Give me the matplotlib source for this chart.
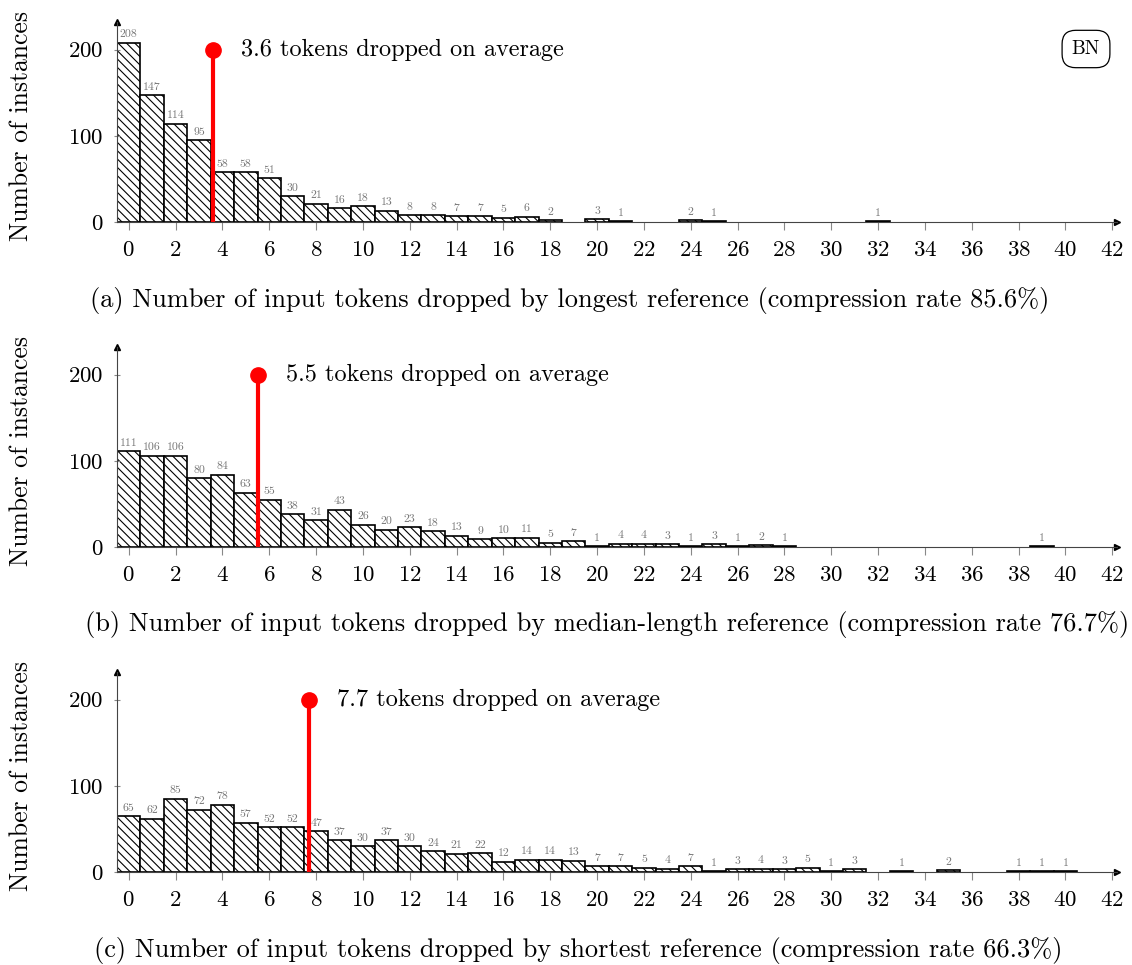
import matplotlib
matplotlib.use("Agg")
import matplotlib.pyplot as plt

plt.rcParams["font.family"] = ["cmr10", "DejaVu Serif"]
plt.rcParams["mathtext.fontset"] = "cm"
plt.rcParams["axes.formatter.use_mathtext"] = True
plt.rcParams["hatch.linewidth"] = 0.8

# token counts 0..40, instances per count
tokens = list(range(41))

longest = [208, 147, 114, 95, 58, 58, 51, 30, 21, 16, 18, 13, 8, 8, 7, 7, 5, 6, 2, 0,
           3, 1, 0, 0, 2, 1, 0, 0, 0, 0, 0, 0, 1, 0, 0, 0, 0, 0, 0, 0, 0]
median = [111, 106, 106, 80, 84, 63, 55, 38, 31, 43, 26, 20, 23, 18, 13, 9, 10, 11, 5, 7,
          1, 4, 4, 3, 1, 3, 1, 2, 1, 0, 0, 0, 0, 0, 0, 0, 0, 0, 0, 1, 0]
shortest = [65, 62, 85, 72, 78, 57, 52, 52, 47, 37, 30, 37, 30, 24, 21, 22, 12, 14, 14, 13,
            7, 7, 5, 4, 7, 1, 3, 4, 3, 5, 1, 3, 0, 1, 0, 2, 0, 0, 1, 1, 1]

means = [3.6, 5.5, 7.7]
captions = [
    "(a) Number of input tokens dropped by longest reference (compression rate 85.6%)",
    "(b) Number of input tokens dropped by median-length reference (compression rate 76.7%)",
    "(c) Number of input tokens dropped by shortest reference (compression rate 66.3%)",
]
caption_x = [570, 607, 578]
series = [longest, median, shortest]

W, H = 1132, 965
fig = plt.figure(figsize=(W / 100, H / 100), dpi=100)

zero_y = [222, 547, 872]
for i, counts in enumerate(series):
    ax = fig.add_axes([117 / W, 1 - zero_y[i] / H, 1000 / W, 200 / H])
    xs = [t for t, c in zip(tokens, counts) if c > 0]
    ys = [c for c in counts if c > 0]
    ax.bar(xs, ys, width=1.0, color="white", edgecolor="black",
           hatch="\\\\\\\\", linewidth=1.2)
    for x, y in zip(xs, ys):
        ax.text(x, y + 4, str(y), ha="center", va="bottom", fontsize=8.5, color="#777777")

    ax.plot([means[i], means[i]], [0, 200], color="red", lw=3, solid_capstyle="butt")
    ax.plot([means[i]], [200], "o", color="red", ms=11)
    ax.text(means[i] + 1.2, 200, f"{means[i]} tokens dropped on average",
            fontsize=17.5, va="center", ha="left")

    ax.set_xlim(-0.5, 42.2)
    ax.set_ylim(0, 232)
    ax.set_xticks(range(0, 43, 2))
    ax.set_yticks([0, 100, 200])
    ax.tick_params(axis="x", labelsize=16.5, length=6, color="#888888", pad=7)
    ax.tick_params(axis="y", labelsize=16.5, length=4, color="#888888", direction="inout", pad=8)
    for s in ["top", "right"]:
        ax.spines[s].set_visible(False)
    ax.spines["bottom"].set_color("#444444")
    ax.spines["left"].set_color("#444444")
    ax.plot(1, 0, ">", color="black", ms=5, transform=ax.transAxes, clip_on=False)
    ax.plot(0, 1, "^", color="black", ms=5, transform=ax.transAxes, clip_on=False)
    ax.set_ylabel("Number of instances", fontsize=18.5)
    ax.yaxis.set_label_coords(-0.084, 0.48)

    fig.text(caption_x[i] / W, 1 - (zero_y[i] + 78) / H, captions[i],
             ha="center", va="center", fontsize=19)

    if i == 0:
        ax.text(0.969, 0.865, "BN", transform=ax.transAxes, fontsize=14,
                ha="center", va="center",
                bbox=dict(boxstyle="round,pad=0.5,rounding_size=0.7",
                          fc="white", ec="black", lw=0.9))

fig.savefig("out.png", dpi=100)
